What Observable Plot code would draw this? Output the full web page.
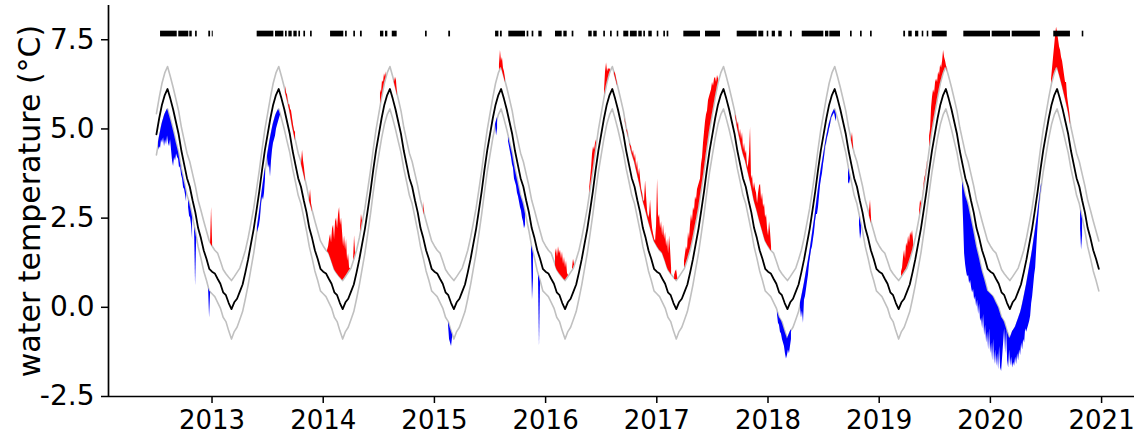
<!DOCTYPE html>
<html><head><meta charset="utf-8">
<script src="https://cdn.jsdelivr.net/npm/d3@7"></script>
<script src="https://cdn.jsdelivr.net/npm/@observablehq/plot@0.6"></script>
<style>html,body{margin:0;padding:0;background:#fff;}</style>
</head><body><div id="chart"></div>
<script>
// ---- seasonal climatology (fraction of year) ----
const climPhase = [0.000,0.025,0.050,0.075,0.100,0.125,0.150,0.175,0.200,0.225,0.250,0.275,0.300,0.325,0.350,0.375,0.400,0.425,0.450,0.475,0.500,0.525,0.550,0.575,0.600,0.625,0.650,0.675,0.700,0.725,0.750,0.775,0.800,0.825,0.850,0.875,0.900,0.925,0.950,0.975];
const climMean  = [1.00,0.95,0.80,0.66,0.42,0.34,0.12,-0.05,0.14,0.24,0.44,0.64,0.98,1.35,1.78,2.20,2.72,3.25,3.85,4.40,4.85,5.30,5.68,5.95,6.12,5.85,5.55,5.20,4.85,4.38,4.00,3.62,3.38,3.00,2.66,2.22,1.94,1.60,1.36,1.08];
const climP90   = [1.72,1.60,1.52,1.30,1.06,0.94,0.84,0.75,0.86,0.98,1.10,1.34,1.60,1.95,2.36,2.78,3.30,3.83,4.43,4.98,5.43,5.88,6.28,6.57,6.75,6.47,6.17,5.84,5.50,5.04,4.68,4.32,4.08,3.74,3.40,3.00,2.72,2.42,2.14,1.86];
const climP10   = [0.38,0.30,0.14,-0.02,-0.28,-0.40,-0.66,-0.89,-0.68,-0.56,-0.34,-0.12,0.24,0.63,1.08,1.52,2.06,2.61,3.23,3.80,4.27,4.74,5.13,5.40,5.56,5.29,4.99,4.65,4.33,3.88,3.52,3.14,2.90,2.52,2.14,1.70,1.38,1.02,0.76,0.46];
const dataStart = 2012.5, dataEnd = 2020.99;
const years = [2012,2013,2014,2015,2016,2017,2018,2019,2020];

// ---- observed temperatures during exceedances (readings every ~3.3 days) ----
const STEP = 0.009;
const warmStarts = [2012.987,2013.661,2013.805,2013.877,2014.039,2014.273,2014.335,2014.515,2014.632,2014.902,2015.585,2016.089,2016.242,2016.395,2016.530,2016.620,2016.710,2017.160,2017.249,2017.708,2018.751,2018.913,2019.201,2019.363,2019.453,2020.550];
const warmValues = [
 [1.8,2.8,1.8],
 [6.2,6.0,5.95,5.6,5.7,5.55,5.5,5.3,5.1,4.95,4.9],
 [4.0,4.4,4.1,3.9,3.6],
 [3.0,3.3,2.9,2.7],
 [1.6,1.7,1.9,2.05,1.8,2.2,2.3,1.9,2.4,2.5,2.2,2.6,2.8,2.3,2.5,2.1,1.7,2.0,1.6,1.9,1.3,1.5,1.1,1.0],
 [1.35,2.0,1.5],
 [2.2,2.6,2.4],
 [6.1,6.0,6.35,6.3,6.55,6.45,6.6],
 [6.4,6.3,6.45,6.35,5.95],
 [2.95,2.6],
 [6.8,7.2,6.9,7.0,6.7,6.6,6.4],
 [1.5,1.65,1.4,1.7,1.5,1.6,1.35,1.55,1.2,1.4,1.1,1.3,0.95,0.85],
 [1.1,1.35,1.2],
 [3.3,3.6,3.9,4.3,4.5,4.4,4.6,4.7],
 [6.1,6.6,6.85,6.6,6.7,6.65,6.7],
 [6.6,6.55,6.4,6.25],
 [5.3,5.2,5.0,4.95,4.7,4.6,4.55,4.5,4.3,4.4,4.15,4.3,3.9,4.1,3.7,3.9,3.6,3.3,3.2,2.95,3.0,3.55,3.1,2.7,2.5,2.6,3.0,2.5,2.2,2.05,1.9,1.85,2.3,3.6,2.5,2.6,2.2,2.4,2.0,2.3,1.9,2.1,1.7,1.9,1.5,2.0,1.6,1.1],
 [0.9,1.0,1.05,0.85],
 [1.3,1.5,1.7,1.6,2.1,1.9,2.3,2.6,2.4,2.8,2.7,3.1,3.0,3.3,3.4,3.5,3.6,4.0,4.2,4.6,4.9,5.2,5.4,5.5,5.8,5.9,6.0,6.1,6.3,6.2,6.4,6.45,6.3,6.5,6.4],
 [5.4,5.3,5.1,5.2,4.8,5.0,4.7,4.9,4.4,4.6,4.3,4.4,3.9,4.0,4.3,5.05,3.6,3.7,3.3,3.5,3.3,3.2,2.9,3.2,3.4,3.45,3.0,3.2,2.8,2.9,2.5,2.6,2.2,2.0,2.4,2.1,1.7],
 [4.7,4.9,4.5],
 [2.7,3.0,2.5],
 [1.0,1.1,1.4,1.6,1.35,1.8,1.7,2.0,1.8,2.1,2.0,2.15,1.85],
 [2.7,3.0,2.9,3.1,3.3,3.6,3.7,3.9,4.1],
 [4.8,5.0,5.6,5.9,6.1,6.0,6.3,6.4,6.3,6.6,6.5,6.8,6.7,6.9,7.2,7.0,6.9,6.75,6.5],
 [6.4,6.7,7.0,7.3,7.6,7.85,7.7,7.5,7.3,7.2,7.0,6.9,6.7,6.5,6.3,6.3,5.9,5.7,5.5,5.2]
];
const coldStarts = [2012.519,2012.789,2012.843,2012.969,2013.409,2013.499,2015.127,2015.550,2015.666,2015.873,2015.936,2018.085,2018.292,2018.724,2018.823,2019.750,2020.811];
const coldValues = [
 [4.4,4.5,4.45,4.7,4.6,4.75,4.5,4.7,4.55,4.8,4.6,4.5,4.7,4.4,4.1,3.95,4.2,4.1,4.3,4.2,4.15,3.9,3.95,3.7,3.6,3.35,3.3,3.15,2.95],
 [2.8,2.55,2.5,2.3,1.9],
 [2.2,0.6,1.8],
 [0.6,-0.3,0.4],
 [2.1,2.2,2.3,2.5,2.9,3.1,3.0,3.2,3.6],
 [4.2,3.9,4.0,3.65,4.1,4.4,4.6,4.7,4.8,5.0,5.1,5.2,5.3,5.4],
 [-0.5,-0.9,-1.0,-1.1,-0.85],
 [5.1,4.8,5.0],
 [4.65,4.5,4.35,4.2,4.0,3.9,3.6,3.5,3.4,3.2,3.1,2.95,2.8,2.7,2.5,2.4,2.2,2.3],
 [1.5,0.2,0.8],
 [0.8,-1.1,0.6],
 [-0.2,-0.45,-0.5,-0.7,-0.75,-0.9,-1.0,-1.1,-1.3,-1.45,-1.35,-1.2,-1.3,-1.1,-0.9],
 [0.0,-0.3,-0.1,-0.45,0.2,0.3,0.5,0.7,0.9,1.2,1.4,1.6,1.7,1.9,2.1,2.4,2.6,2.6,2.8,3.1,3.4,3.6,3.75,4.0,4.2,4.5,4.6,4.75,4.85,5.0,5.1,5.3,5.35,5.4,5.45,5.3,5.2],
 [3.5,3.45,3.6],
 [2.3,1.9,2.1],
 [3.2,2.4,1.5,1.2,1.0,0.85,0.9,0.65,0.75,0.55,0.4,0.5,0.2,0.3,0.0,0.2,-0.2,0.1,-0.4,-0.3,-0.6,-0.2,-0.8,-0.5,-1.0,-0.7,-1.2,-0.6,-1.3,-1.0,-1.5,-0.9,-1.6,-1.2,-1.65,-1.3,-1.75,-1.1,-1.7,-1.8,-1.4,-1.0,-0.6,-1.3,-0.3,-1.5,-1.7,-1.2,-1.65,-1.4,-1.7,-1.55,-1.65,-1.4,-1.6,-1.3,-1.5,-1.2,-1.35,-1.0,-1.2,-0.9,-1.0,-0.6,-0.7,-0.6,-0.5,-0.4,-0.25,0.1,0.3,0.6,0.9,1.1,1.6,2.1,2.5,2.9,3.2,3.4],
 [2.2,1.6,2.0]
];

// ---- event periods (top strip) ----
const eventStart = [2012.537,2012.701,2012.800,2012.852,2012.971,2013.002,2013.406,2013.571,2013.661,2013.691,2013.736,2013.781,2013.826,2013.886,2014.066,2014.201,2014.275,2014.335,2014.515,2014.560,2014.621,2014.920,2015.129,2015.550,2015.594,2015.669,2015.834,2015.879,2015.939,2016.089,2016.164,2016.239,2016.388,2016.433,2016.523,2016.584,2016.644,2016.703,2016.763,2016.838,2016.883,2016.928,2017.004,2017.063,2017.093,2017.243,2017.438,2017.723,2017.917,2017.993,2018.038,2018.097,2018.202,2018.308,2018.517,2018.556,2018.742,2018.832,2018.922,2019.221,2019.266,2019.327,2019.387,2019.432,2019.477,2019.761,2020.016,2020.196,2020.570,2020.826];
const eventEnd   = [2012.687,2012.791,2012.822,2012.867,2012.987,2013.011,2013.556,2013.646,2013.676,2013.721,2013.766,2013.796,2013.841,2013.901,2014.185,2014.216,2014.290,2014.351,2014.545,2014.581,2014.665,2014.935,2015.145,2015.580,2015.610,2015.819,2015.849,2015.894,2015.969,2016.149,2016.194,2016.254,2016.419,2016.464,2016.538,2016.599,2016.658,2016.748,2016.824,2016.869,2016.898,2016.959,2017.018,2017.078,2017.108,2017.393,2017.573,2017.903,2017.962,2018.007,2018.067,2018.128,2018.218,2018.502,2018.547,2018.652,2018.757,2018.847,2018.937,2019.237,2019.297,2019.356,2019.401,2019.446,2019.612,2020.001,2020.181,2020.450,2020.720,2020.840];
const eventLow = 7.58, eventHigh = 7.74;

const xTicks = [2013,2014,2015,2016,2017,2018,2019,2020,2021];
const yTicks = [-2.5,0,2.5,5,7.5];
const xDomain = [2012.069, 2021.296];
const yDomain = [-2.5, 8.46];

// ---- build tables ----
function seasonal(arr, t) {
  const p = t - Math.floor(t);
  const n = climPhase.length;
  let i = 0;
  for (let k = 0; k < n; k++) if (climPhase[k] <= p) i = k;
  const p1 = i + 1 < n ? climPhase[i + 1] : climPhase[0] + 1;
  const v0 = arr[i], v1 = arr[(i + 1) % n];
  return v0 + (v1 - v0) * (p - climPhase[i]) / (p1 - climPhase[i]);
}
const clim = [];
for (const yr of years) climPhase.forEach((ph, i) => {
  const t = yr + ph;
  if (t >= dataStart && t <= dataEnd) clim.push({t, mean: climMean[i], p90: climP90[i], p10: climP10[i]});
});
const warm = [];
warmStarts.forEach((s, k) => warmValues[k].forEach((v, j) => {
  const t = s + j * STEP, thr = seasonal(climP90, t);
  warm.push({id: k, t, thr, obs: Math.max(v, thr)});
}));
const cold = [];
coldStarts.forEach((s, k) => coldValues[k].forEach((v, j) => {
  const t = s + j * STEP, thr = seasonal(climP10, t);
  cold.push({id: k, t, thr, obs: Math.min(v, thr)});
}));
const events = eventStart.map((s, i) => ({s, e: eventEnd[i]}));

const font = "'DejaVu Sans', sans-serif";
const chart = Plot.plot({
  width: 1134, height: 437,
  marginLeft: 108, marginRight: 0, marginTop: 5, marginBottom: 41,
  style: {fontFamily: font, background: "white", color: "black"},
  x: {domain: xDomain},
  y: {domain: yDomain},
  marks: [
    Plot.line(clim, {x: "t", y: "p90", stroke: "#c0c0c0", strokeWidth: 1.6}),
    Plot.line(clim, {x: "t", y: "p10", stroke: "#c0c0c0", strokeWidth: 1.6}),
    Plot.areaY(warm, {x: "t", y1: "thr", y2: "obs", z: "id", fill: "#ff0000"}),
    Plot.areaY(cold, {x: "t", y1: "thr", y2: "obs", z: "id", fill: "#0000ff"}),
    Plot.line(clim, {x: "t", y: "mean", stroke: "black", strokeWidth: 1.8}),
    Plot.rect(events, {x1: "s", x2: "e", y1: eventLow, y2: eventHigh, fill: "black"}),
    Plot.ruleX([xDomain[0]], {stroke: "black", strokeWidth: 1.7}),
    Plot.ruleY([yDomain[0]], {stroke: "black", strokeWidth: 1.7}),
    Plot.axisX({ticks: xTicks, tickFormat: d => String(d), tickSize: 7, tickPadding: 7, strokeWidth: 1.5, fontSize: 26, label: null}),
    Plot.axisY({ticks: yTicks, tickFormat: d => d.toFixed(1), tickSize: 7, tickPadding: 7, strokeWidth: 1.5, fontSize: 28, label: null}),
    Plot.text(["water temperature (°C)"], {frameAnchor: "left", rotate: -90, dx: -78, fontSize: 30, fill: "black", textAnchor: "middle", lineAnchor: "middle"})
  ]
});
document.getElementById("chart").appendChild(chart);
</script>
</body></html>
